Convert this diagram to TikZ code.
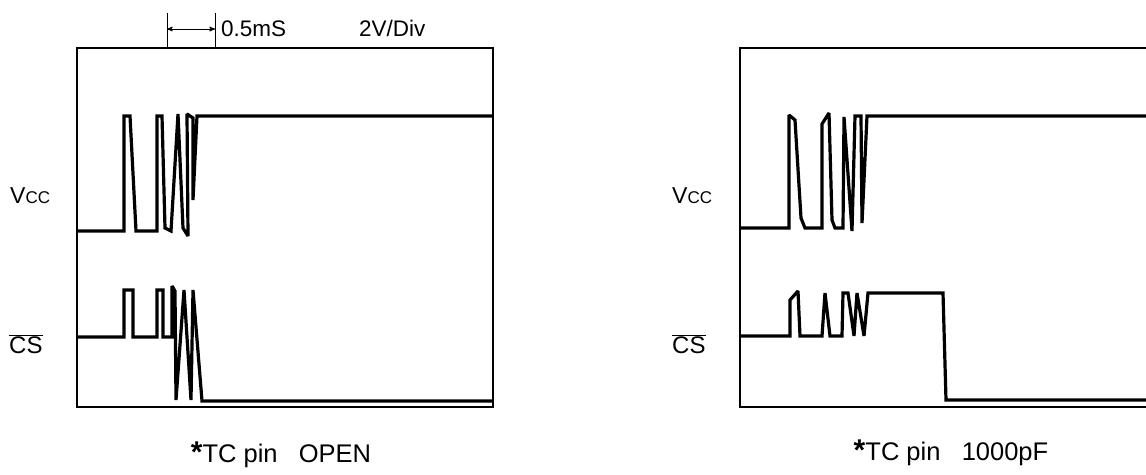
\documentclass[tikz,border=0pt]{standalone}
\usepackage{fontspec}
\setmainfont{Liberation Sans}
\usetikzlibrary{arrows}

\begin{document}
\begin{tikzpicture}
[ x=1pt, y=-1pt,
scope/.style={draw=black, line width=1.5pt},
trace/.style={draw=black, line width=3.2pt, line join=miter, miter limit=2},
tick/.style={draw=black, line width=1pt},
lbl/.style={inner sep=0pt, font=\fontsize{22.5}{26}\selectfont},
sig/.style={inner sep=0pt, font=\fontsize{23}{26}\selectfont},
caption/.style={inner sep=0pt, font=\fontsize{25.5}{28}\selectfont},
]
\useasboundingbox (0,0) rectangle (1146,474);
\clip (0,0) rectangle (1146,474);

% time base and scale
\draw[tick] (167,13) -- (167,48);
\draw[tick] (215,13) -- (215,48);
\coordinate (tickL) at (167,29);
\coordinate (tickR) at (215,29);
\draw[tick, stealth'-stealth'] (tickL) -- (tickR);
\node[lbl, anchor=base west] (time) at (221,36) {0.5mS};
\node[lbl, anchor=base west] (volt) at (359,36) {2V/Div};

% left screen: TC pin open
\draw[scope] (77,48) rectangle (493,407);
\node[sig, anchor=base west] (vccA) at (10,203) {V{\fontsize{17}{17}\selectfont CC}};
\node[sig, anchor=base west] (csA) at (9,353) {\fontsize{24}{26}\selectfont$\overline{\hbox{CS}}$};
\draw[trace] (77,231) -- (124,231) -- (124,116) -- (130,116) -- (136,231)
  -- (157,231) -- (157,116) -- (162,116) -- (165,228) -- (171,231)
  -- (178,114) -- (183,228) -- (188,236) -- (187,114) -- (193,118)
  -- (193,200) -- (197,116) -- (493,116);
\draw[trace] (77,337) -- (124,337) -- (124,290) -- (133,290) -- (133,337)
  -- (157,337) -- (157,290) -- (163,290) -- (163,337) -- (172,337)
  -- (172,286) -- (175,291) -- (176,400) -- (184,290) -- (191,400)
  -- (193,290) -- (202,401) -- (493,401);
\node[caption, anchor=base] (openA) at (281,462) {{\bfseries\fontsize{30}{28}\selectfont*}TC pin\ \ \ OPEN};

% right screen: TC pin 1000pF
\draw[scope] (740,48) rectangle (1160,407);
\node[sig, anchor=base west] (vccB) at (672,203) {V{\fontsize{17}{17}\selectfont CC}};
\node[sig, anchor=base west] (csB) at (672,353) {\fontsize{24}{26}\selectfont$\overline{\hbox{CS}}$};
\draw[trace] (740,228) -- (789,228) -- (789,115) -- (795,120) -- (801,218)
  -- (805,228) -- (822,228) -- (822,124) -- (829,113) -- (832,220)
  -- (835,228) -- (843,228) -- (844,117) -- (852,231) -- (855,116)
  -- (861,116) -- (862,223) -- (867,116) -- (1160,116);
\draw[trace] (740,336) -- (790,336) -- (790,300) -- (798,291) -- (800,336)
  -- (822,336) -- (825,293) -- (830,336) -- (842,336) -- (843,293)
  -- (848,293) -- (854,336) -- (857,293) -- (864,336) -- (868,293)
  -- (943,293) -- (946,400) -- (1160,400);
\node[caption, anchor=base] (capB) at (951,460) {{\bfseries\fontsize{30}{28}\selectfont*}TC pin\ \ \ 1000pF};
\end{tikzpicture}
\end{document}
